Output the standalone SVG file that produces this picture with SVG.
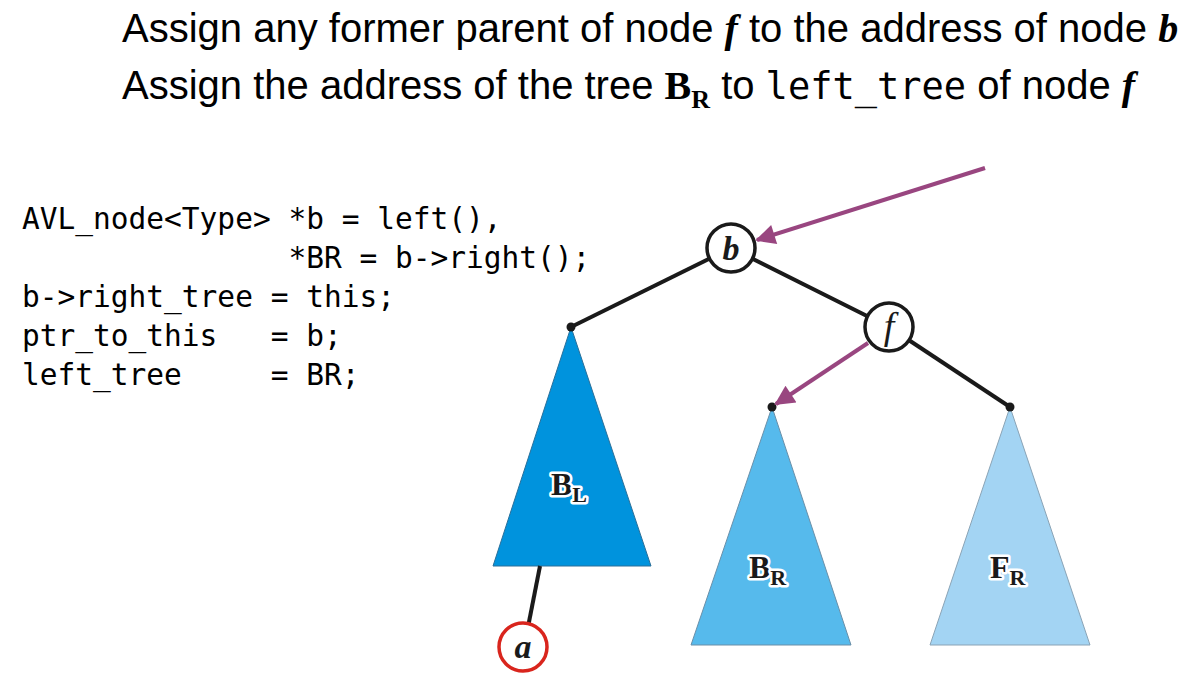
<svg xmlns="http://www.w3.org/2000/svg" width="1194" height="691" viewBox="0 0 1194 691">
<defs>
<style>
.title{font-family:"Liberation Sans",Arial,sans-serif;font-size:40px;fill:#000}
.it{font-family:"Liberation Serif","Times New Roman",serif;font-style:italic;font-weight:bold}
.bs{font-family:"Liberation Serif","Times New Roman",serif;font-weight:bold}
.mono{font-family:"DejaVu Sans Mono","Liberation Mono",monospace;font-size:37px}
.code{font-family:"DejaVu Sans Mono","Liberation Mono",monospace;font-size:29.5px;fill:#000}
.edge{stroke:#1a1a1a;stroke-width:4;fill:none}
.arrow{stroke:#994680;stroke-width:4;fill:none}
.node{fill:#fff;stroke:#1a1a1a;stroke-width:3.5}
.nodered{fill:#fff;stroke:#d9251d;stroke-width:3.5}
.nl{font-family:"Liberation Serif","Times New Roman",serif;font-style:italic;font-weight:bold;font-size:34px;fill:#1a1a1a;text-anchor:middle}
.nlf{font-family:"Liberation Serif","Times New Roman",serif;font-style:italic;font-weight:normal;font-size:38px;fill:#1a1a1a;text-anchor:middle}
.tl{font-family:"Liberation Serif","Times New Roman",serif;font-weight:bold;fill:#1a1a1a;stroke:#fff;stroke-width:5;paint-order:stroke;stroke-linejoin:round}
.dot{fill:#1a1a1a}
</style>
<marker id="ah" viewBox="0 0 10 10" refX="9" refY="5" markerWidth="6" markerHeight="5" markerUnits="strokeWidth" orient="auto">
<path d="M0,0 L10,5 L0,10 z" fill="#994680"/>
</marker>
</defs>

<g id="title">
<text class="title" x="122" y="42">Assign any former parent of node <tspan class="it">f</tspan> to the address of node <tspan class="it">b</tspan></text>
<text class="title" x="122" y="99">Assign the address of the tree <tspan class="bs">B</tspan><tspan class="bs" font-size="26" dy="9">R</tspan><tspan dy="-9"> to </tspan><tspan class="mono">left_tree</tspan> of node <tspan class="it">f</tspan></text>
</g>

<g id="code">
<text class="code" x="22" y="229">AVL_node&lt;Type&gt; *b = left(),</text>
<text class="code" x="22" y="268" xml:space="preserve">               *BR = b-&gt;right();</text>
<text class="code" x="22" y="307">b-&gt;right_tree = this;</text>
<text class="code" x="22" y="346" xml:space="preserve">ptr_to_this   = b;</text>
<text class="code" x="22" y="385" xml:space="preserve">left_tree     = BR;</text>
</g>

<g id="subtree-BL">
<polygon points="571,327 493,566 651,566" fill="#0093dd" stroke="#2a6f99" stroke-width="1"/>
<text class="tl" x="551" y="495" font-size="32">B<tspan font-size="22" dy="7">L</tspan></text>
</g>
<g id="subtree-BR">
<polygon points="772,407 691,645 851,645" fill="#56baec" stroke="#6a8fa8" stroke-width="1"/>
<text class="tl" x="749" y="578" font-size="32">B<tspan font-size="22" dy="7">R</tspan></text>
</g>
<g id="subtree-FR">
<polygon points="1010,407 930,645 1090,645" fill="#a3d4f3" stroke="#8aa3b5" stroke-width="1"/>
<text class="tl" x="990" y="578" font-size="32">F<tspan font-size="22" dy="7">R</tspan></text>
</g>

<g id="connectors">
<line class="edge" x1="731" y1="248" x2="571" y2="327"/>
<line class="edge" x1="731" y1="248" x2="889" y2="327"/>
<line class="edge" x1="889" y1="327" x2="1010" y2="407"/>
<line class="edge" x1="540" y1="566" x2="528" y2="627"/>
<circle class="dot" cx="571" cy="327" r="4.5"/>
<circle class="dot" cx="772" cy="407" r="4.5"/>
<circle class="dot" cx="1010" cy="407" r="4.5"/>
<line class="arrow" x1="985" y1="168" x2="757" y2="240" marker-end="url(#ah)"/>
<line class="arrow" x1="868" y1="343" x2="776" y2="404" marker-end="url(#ah)"/>
</g>

<g id="node-b">
<circle class="node" cx="731" cy="248" r="24"/>
<text class="nl" x="731" y="260">b</text>
</g>
<g id="node-f">
<circle class="node" cx="889" cy="327" r="24"/>
<text class="nlf" x="889" y="339">f</text>
</g>
<g id="node-a">
<circle class="nodered" cx="523" cy="647" r="24"/>
<text class="nl" x="523" y="658">a</text>
</g>
</svg>
